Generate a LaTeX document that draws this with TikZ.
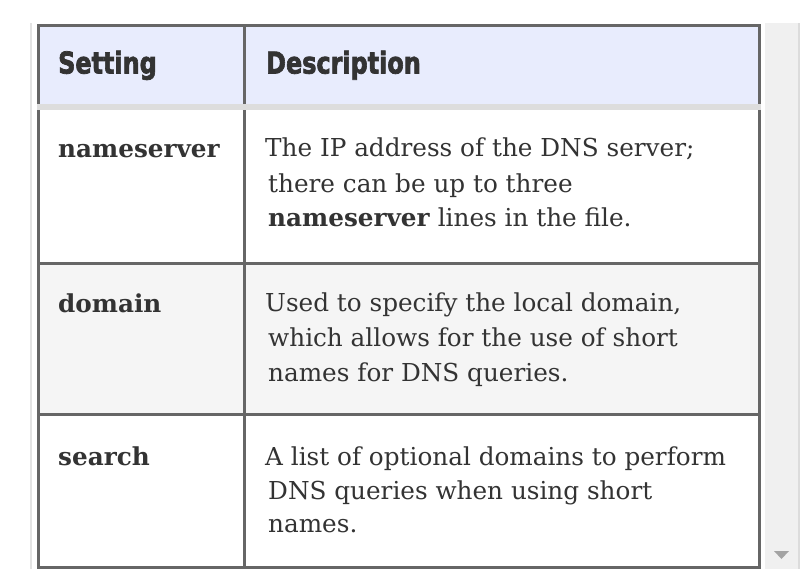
\documentclass[tikz,border=0pt]{standalone}
\usepackage{fontspec}
\setmainfont{DejaVu Serif}
\newfontfamily\hdrfont[FakeBold=2.6]{DejaVu Sans Bold}
\definecolor{txt}{HTML}{333333}
\definecolor{bordergray}{HTML}{666666}
\definecolor{hdrbg}{HTML}{E8ECFD}
\definecolor{bandgray}{HTML}{DDDDDD}
\definecolor{rowgray}{HTML}{F5F5F5}
\definecolor{scrollbg}{HTML}{F0F0F0}
\definecolor{scrolledge}{HTML}{DCDCDC}
\definecolor{leftline}{HTML}{E3E3E3}
\definecolor{arrowgray}{HTML}{A3A3A3}
\begin{document}
\begin{tikzpicture}[x=1pt,y=-1pt,
  bodytext/.style={anchor=base west, inner sep=0pt, text=txt, font=\fontsize{24.7}{28}\selectfont},
  hdrtext/.style={anchor=base west, inner sep=0pt, text=txt, font=\hdrfont\fontsize{28.8}{30}\selectfont},
  gridline/.style={draw=bordergray, line width=3pt}]
\useasboundingbox (0,0) rectangle (800,569);
\fill[white] (0,0) rectangle (800,569);
% page chrome
\fill[leftline] (30,23) rectangle (32,569);
\fill[scrollbg] (765,23) rectangle (798,569);
\fill[scrolledge] (798,23) rectangle (800,569);
\fill[arrowgray] (774,551) -- (789,551) -- (781.5,559) -- cycle;
% backgrounds
\fill[hdrbg] (38.5,25.5) rectangle (759.5,104);
\fill[rowgray] (38.5,263.5) rectangle (759.5,414.5);
% grid
\draw[gridline] (38.5,25.5) rectangle (759.5,567.5);
\draw[gridline] (244.5,25.5) -- (244.5,567.5);
\draw[gridline] (38.5,263.5) -- (759.5,263.5);
\draw[gridline] (38.5,414.5) -- (759.5,414.5);
\fill[bandgray] (37,104) rectangle (761,110.5);
% header
\node[hdrtext] (h1) at (58,73.5) {\scalebox{0.83}[1.04]{Setting}};
\node[hdrtext] (h2) at (266,73.5) {\scalebox{0.83}[1.04]{Description}};
% row 1
\node[bodytext] (s1) at (58,158) {\bfseries nameserver};
\node[bodytext] (d1a) at (265,157) {The IP address of the DNS server;};
\node[bodytext] (d1b) at (268,192.3) {there can be up to three};
\node[bodytext] (d1c) at (268,227) {\textbf{nameserver} lines in the file.};
% row 2
\node[bodytext] (s2) at (58,312) {\bfseries domain};
\node[bodytext] (d2a) at (265,311.7) {Used to specify the local domain,};
\node[bodytext] (d2b) at (268,346.7) {which allows for the use of short};
\node[bodytext] (d2c) at (268,381.7) {names for DNS queries.};
% row 3
\node[bodytext] (s3) at (58,465) {\bfseries search};
\node[bodytext] (d3a) at (265,465) {A list of optional domains to perform};
\node[bodytext] (d3b) at (268,499.3) {DNS queries when using short};
\node[bodytext] (d3c) at (268,532.5) {names.};
\end{tikzpicture}
\end{document}
